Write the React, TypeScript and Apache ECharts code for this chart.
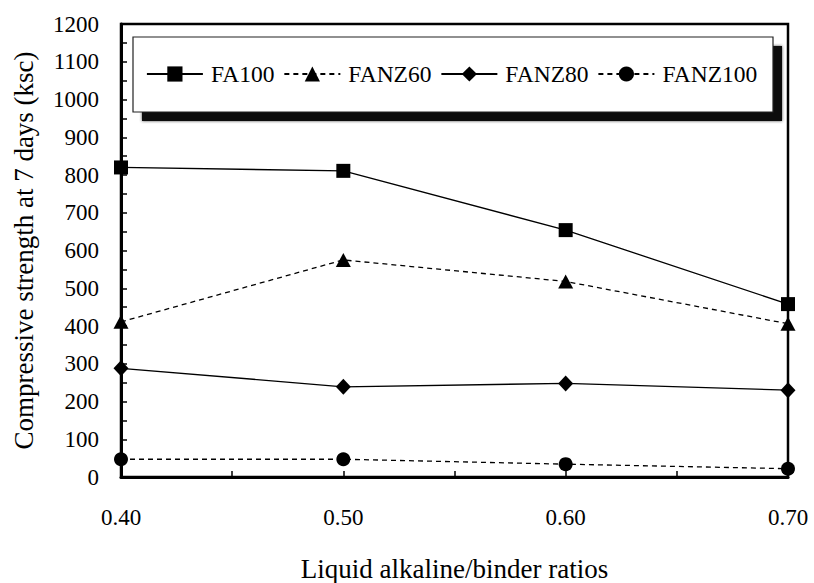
import React, { useEffect, useRef } from "react";
import * as echarts from "echarts";

const ratios = [0.4, 0.5, 0.6, 0.7];
const fa100 = [820, 811, 654, 458];
const fanz60 = [411, 575, 518, 406];
const fanz80 = [288, 239, 248, 230];
const fanz100 = [47, 47, 34, 22];
const seriesNames = ["FA100", "FANZ60", "FANZ80", "FANZ100"];
const xTitle = "Liquid alkaline/binder ratios";
const yTitle = "Compressive strength at 7 days (ksc)";

const FONT = "Liberation Serif";

function pairs(vals: number[]) {
  return ratios.map((r, i) => [r, vals[i]]);
}

export default function App() {
  const ref = useRef<HTMLDivElement>(null);
  useEffect(() => {
    if (!ref.current) return;
    const chart = echarts.init(ref.current, undefined, { renderer: "svg" });
    const mk = (
      name: string,
      vals: number[],
      symbol: string,
      size: any,
      dashed: boolean
    ) => ({
      name,
      type: "line",
      data: pairs(vals),
      symbol,
      symbolSize: size,
      showAllSymbol: true,
      color: "#000",
      itemStyle: { color: "#000" },
      lineStyle: {
        color: "#000",
        width: 1.3,
        type: dashed ? [5, 4] : "solid",
      },
      z: 3,
    });
    chart.setOption({
      animation: false,
      backgroundColor: "#fff",
      textStyle: { fontFamily: FONT, color: "#000" },
      grid: {
        left: 121,
        right: 26,
        top: 24,
        bottom: 106,
        containLabel: false,
        outerBoundsMode: "none",
        show: true,
        borderColor: "#000",
        borderWidth: 2.5,
        backgroundColor: "transparent",
      },
      xAxis: {
        type: "value",
        min: 0.4,
        max: 0.7,
        interval: 0.1,
        name: xTitle,
        nameLocation: "middle",
        nameGap: 78,
        nameTextStyle: { fontFamily: FONT, fontSize: 27, color: "#000" },
        axisLine: { show: true, lineStyle: { color: "#000", width: 3 } },
        axisTick: { show: true, inside: true, length: 6, lineStyle: { color: "#000", width: 1.5 } },
        minorTick: { show: true, splitNumber: 2, length: 6, lineStyle: { color: "#000", width: 1.5 } },
        splitLine: { show: false },
        axisLabel: {
          fontFamily: FONT,
          fontSize: 23,
          color: "#000",
          margin: 29,
          formatter: (v: number) => v.toFixed(2),
        },
      },
      yAxis: {
        type: "value",
        min: 0,
        max: 1200,
        interval: 100,
        name: yTitle,
        nameLocation: "middle",
        nameGap: 84,
        nameTextStyle: { fontFamily: FONT, fontSize: 27, color: "#000" },
        axisLine: { show: true, lineStyle: { color: "#000", width: 3 } },
        axisTick: { show: true, inside: true, length: 6, lineStyle: { color: "#000", width: 1.5 } },
        minorTick: { show: true, splitNumber: 2, length: 6, lineStyle: { color: "#000", width: 1.5 } },
        splitLine: { show: false },
        axisLabel: {
          fontFamily: FONT,
          fontSize: 23,
          color: "#000",
          margin: 22,
          formatter: (v: number) => String(v),
        },
      },
      legend: {
        data: seriesNames,
        left: 146,
        top: 62,
        padding: 0,
        itemWidth: 56,
        itemHeight: 19,
        itemGap: 9,
        z: 20,
        lineStyle: { width: 1.8 },
        textStyle: { fontFamily: FONT, fontSize: 23.5, color: "#000", padding: [0, 0, 0, 3] },
      },
      graphic: [
        {
          type: "rect",
          z: 10,
          shape: { x: 142, y: 46, width: 640, height: 75 },
          style: { fill: "#111", shadowBlur: 3, shadowColor: "#444" },
        },
        {
          type: "rect",
          z: 11,
          shape: { x: 133, y: 37, width: 640, height: 75 },
          style: { fill: "#fff", stroke: "#222", lineWidth: 1.2 },
        },
      ],
      series: [
        mk(seriesNames[0], fa100, "rect", 14, false),
        mk(seriesNames[1], fanz60, "triangle", [15, 14], true),
        mk(seriesNames[2], fanz80, "diamond", [15, 16], false),
        mk(seriesNames[3], fanz100, "circle", 14, true),
      ],
    });
    return () => chart.dispose();
  }, []);
  return (
    <div
      ref={ref}
      style={{ position: "fixed", left: 0, top: 0, width: 814, height: 583 }}
    />
  );
}
